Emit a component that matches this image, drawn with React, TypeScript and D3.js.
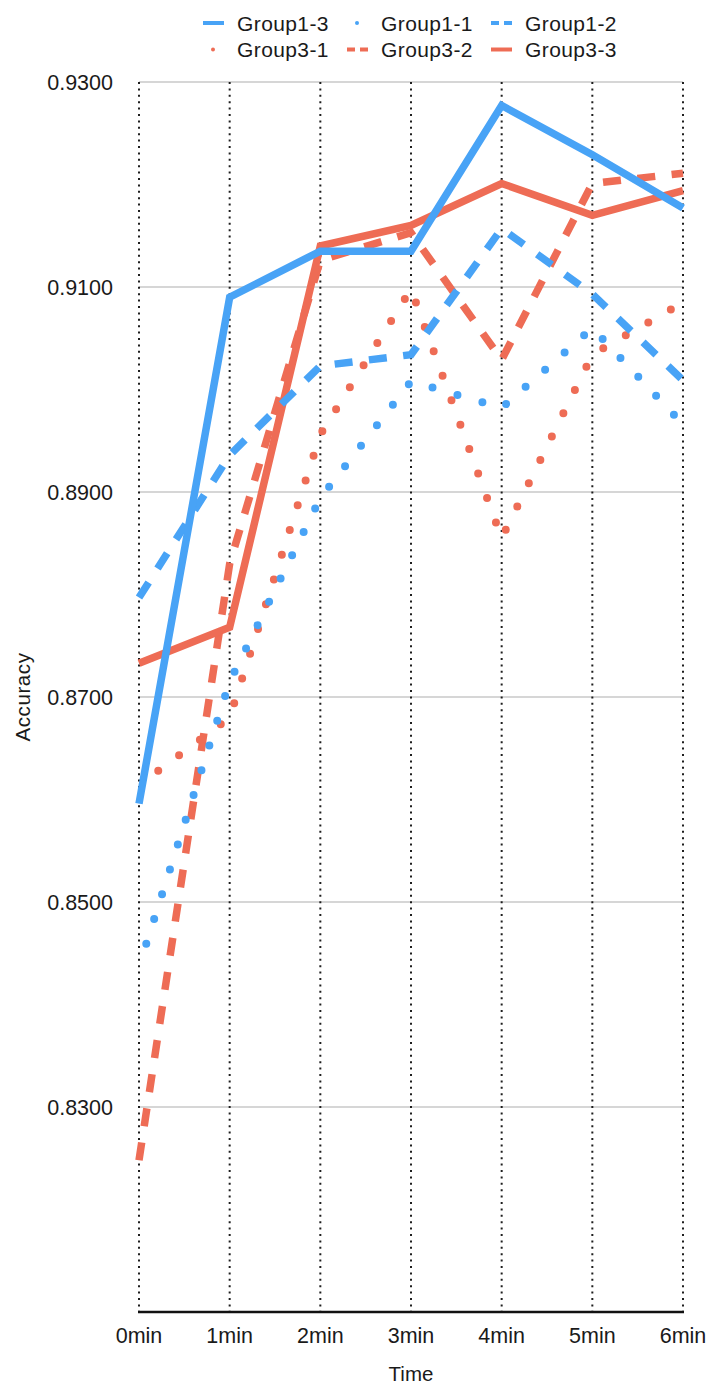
import React from "react";
import * as d3 from "d3";

// Time points on the x axis
const times = ["0min", "1min", "2min", "3min", "4min", "5min", "6min"];

// Accuracy per time point for each group
const group1_3 = [0.8596, 0.909, 0.9135, 0.9135, 0.9277, 0.9229, 0.9177];
const group1_1 = [0.8437, 0.8715, 0.8894, 0.9008, 0.8982, 0.906, 0.8966];
const group1_2 = [0.8797, 0.8936, 0.9023, 0.9034, 0.9157, 0.9093, 0.9009];
const group3_1 = [0.8614, 0.868, 0.8956, 0.9098, 0.8855, 0.9034, 0.9085];
const group3_2 = [0.8248, 0.883, 0.9126, 0.9153, 0.9029, 0.9201, 0.9211];
const group3_3 = [0.8733, 0.8768, 0.914, 0.916, 0.9201, 0.917, 0.9194];

// Y axis ticks
const yTicks = [0.93, 0.91, 0.89, 0.87, 0.85, 0.83];

const BLUE = "#48a3f6";
const RED = "#ee6c55";

type Style = "solid" | "dot" | "dash";

const series: { name: string; values: number[]; color: string; style: Style }[] = [
  { name: "Group3-1", values: group3_1, color: RED, style: "dot" },
  { name: "Group3-2", values: group3_2, color: RED, style: "dash" },
  { name: "Group3-3", values: group3_3, color: RED, style: "solid" },
  { name: "Group1-1", values: group1_1, color: BLUE, style: "dot" },
  { name: "Group1-2", values: group1_2, color: BLUE, style: "dash" },
  { name: "Group1-3", values: group1_3, color: BLUE, style: "solid" },
];

// Legend layout: two rows of three
const legendRows: string[][] = [
  ["Group1-3", "Group1-1", "Group1-2"],
  ["Group3-1", "Group3-2", "Group3-3"],
];

const FONT = "'Liberation Sans', Arial, Helvetica, sans-serif";

function strokeProps(style: Style) {
  if (style === "dot")
    return {
      strokeDasharray: "0 26",
      strokeDashoffset: 2,
      strokeLinecap: "round" as const,
      strokeWidth: 8,
    };
  if (style === "dash")
    return { strokeDasharray: "18 16.5", strokeLinecap: "butt" as const, strokeWidth: 7.5 };
  return { strokeLinecap: "butt" as const, strokeWidth: 7.5 };
}

export default function App() {
  const width = 710;
  const height = 1385;
  const left = 139;
  const right = 683;
  const top = 82;
  const bottom = 1312;

  const x = d3.scalePoint<string>().domain(times).range([left, right]);
  const y = d3.scaleLinear().domain([0.81, 0.93]).range([bottom, top]);

  const line = d3
    .line<number>()
    .x((_, i) => x(times[i]) as number)
    .y((d) => y(d));

  const byName = new Map(series.map((s) => [s.name, s]));
  const colX = [203, 347, 491];
  const rowY = [23, 49.5];

  return (
    <svg
      width={width}
      height={height}
      style={{ position: "absolute", left: 0, top: 0, background: "#fff" }}
      fontFamily={FONT}
    >
      {/* horizontal gridlines */}
      {yTicks.map((t) => (
        <line key={t} x1={left} x2={right} y1={y(t)} y2={y(t)} stroke="#c8c8c8" strokeWidth={1.3} />
      ))}
      {/* vertical dotted gridlines */}
      {times.map((t) => (
        <line
          key={t}
          x1={x(t)}
          x2={x(t)}
          y1={top}
          y2={bottom}
          stroke="#1e1e1e"
          strokeWidth={2}
          strokeDasharray="2 4.4"
        />
      ))}
      {/* x axis baseline */}
      <line x1={left - 1} x2={right + 1} y1={bottom} y2={bottom} stroke="#111" strokeWidth={2.5} />

      {/* y tick labels */}
      {yTicks.map((t) => (
        <text key={t} x={113} y={y(t)} dy="0.36em" textAnchor="end" fontSize={21.5} fill="#1a1a1a">
          {t.toFixed(4)}
        </text>
      ))}
      {/* x tick labels */}
      {times.map((t) => (
        <text key={t} x={x(t)} y={1343} textAnchor="middle" fontSize={21.5} fill="#1a1a1a">
          {t}
        </text>
      ))}
      <text x={(left + right) / 2} y={1381} textAnchor="middle" fontSize={20.5} fill="#1a1a1a">
        Time
      </text>
      <text
        transform={`translate(30,697) rotate(-90)`}
        textAnchor="middle"
        fontSize={20.5}
        letterSpacing={0.6}
        fill="#1a1a1a"
      >
        Accuracy
      </text>

      {/* data lines */}
      {series.map((s) => (
        <path
          key={s.name}
          d={line(s.values) || ""}
          fill="none"
          stroke={s.color}
          strokeLinejoin="miter"
          {...strokeProps(s.style)}
        />
      ))}

      {/* legend */}
      {legendRows.map((row, r) =>
        row.map((name, c) => {
          const s = byName.get(name)!;
          const sx = colX[c];
          const sy = rowY[r];
          let swatch;
          if (s.style === "solid")
            swatch = <line x1={sx} x2={sx + 21} y1={sy} y2={sy} stroke={s.color} strokeWidth={4} />;
          else if (s.style === "dash")
            swatch = (
              <line
                x1={sx}
                x2={sx + 21}
                y1={sy}
                y2={sy}
                stroke={s.color}
                strokeWidth={4}
                strokeDasharray="8 5"
              />
            );
          else swatch = <circle cx={sx + 10} cy={sy} r={2} fill={s.color} />;
          return (
            <g key={name}>
              {swatch}
              <text x={sx + 34} y={sy} dy="0.36em" fontSize={21} letterSpacing={0.4} fill="#1a1a1a">
                {name}
              </text>
            </g>
          );
        })
      )}
    </svg>
  );
}
